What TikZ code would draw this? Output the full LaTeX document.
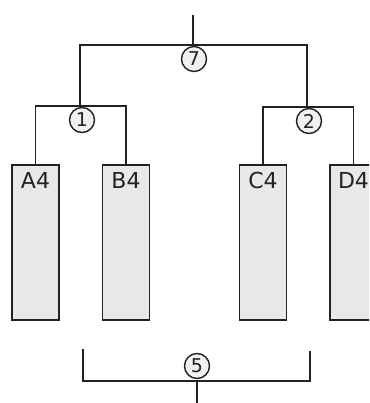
\documentclass[tikz,border=0pt]{standalone}
\usepackage{fontspec}
\setmainfont{DejaVu Sans}
\usetikzlibrary{positioning}
\definecolor{lnblack}{HTML}{222222}
\definecolor{cellgray}{HTML}{E8E8E8}

\begin{document}
\begin{tikzpicture}[
  x=1pt, y=-1pt,
  wire/.style={draw=lnblack, line width=1.8pt},
  cell/.style={rectangle, draw=lnblack, line width=1.8pt, fill=cellgray, minimum width=47pt, minimum height=155pt, inner sep=0pt},
  tag/.style={anchor=north, yshift=-4.5pt, font=\fontsize{22}{24}\selectfont, text=lnblack},
  num/.style={circle, draw=lnblack, line width=1.4pt, fill=cellgray!60, minimum size=25pt, inner sep=0pt, font=\fontsize{19}{20}\selectfont, text=lnblack},
]
\useasboundingbox (0,0) rectangle (369,403);
\clip (0,0) rectangle (369,403);

% Cells
\node[cell, label={[tag]north:A4}] (A4) at (35.5,242.5) {};
\node[cell, label={[tag]north:B4}] (B4) at (126,242.5) {};
\node[cell, label={[tag]north:C4}] (C4) at (263,242.5) {};
\node[cell, label={[tag]north:D4}] (D4) at (353.5,242.5) {};

% Junction points
\coordinate (top) at (193,15);
\coordinate (j7) at (193,45);
\coordinate (j1) at (80,106);
\coordinate (j2) at (307,107);
\coordinate (bl) at (83,349);
\coordinate (br) at (310,351);
\coordinate (j5) at (197,381);
\coordinate (bot) at (197,403);

% Upper tree
\draw[wire] (top) -- (j7);
\draw[wire] (j1) |- (j7) -| (j2);
\draw[wire] (A4.north) |- (j1) -| (B4.north);
\draw[wire] (C4.north) |- (j2) -| (D4.north);

% Lower bracket
\draw[wire] (bl) |- (j5) -| (br);
\draw[wire] (j5) -- (bot);

% Circled numbers
\node[num] (n7) at (194,59) {7};
\node[num] (n1) at (82,120) {1};
\node[num] (n2) at (309,121) {2};
\node[num] (n5) at (197,366) {5};

\end{tikzpicture}
\end{document}
